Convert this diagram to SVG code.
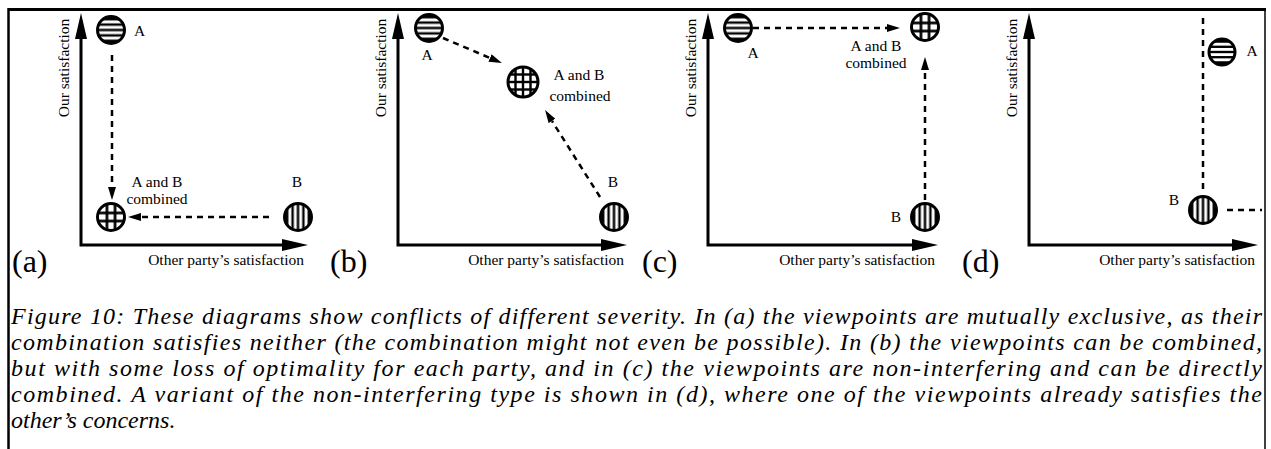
<svg xmlns="http://www.w3.org/2000/svg" width="1271" height="449" viewBox="0 0 1271 449">
<style>
.lbl{font-family:"Liberation Serif","Times New Roman",serif;font-size:15.5px;fill:#000}
.mid{text-anchor:middle}
.end{text-anchor:end}
.tag{font-family:"Liberation Serif","Times New Roman",serif;font-size:32px;fill:#000}
.cap{font-family:"Liberation Serif","Times New Roman",serif;font-style:italic;font-size:24px;fill:#000}
.axis{fill:none;stroke:#000;stroke-width:3;stroke-linejoin:miter}
.dash{fill:none;stroke:#000;stroke-width:2.5;stroke-dasharray:6 5}
.node{stroke:#000;stroke-width:3}
.frame{stroke:#000;fill:none}
</style>
<defs>
<marker id="ax" markerUnits="userSpaceOnUse" markerWidth="26" markerHeight="12" refX="0" refY="6" orient="auto-start-reverse" viewBox="0 0 26 12"><path d="M0,0 L26,6 L0,12 z" fill="#000"/></marker>
<marker id="ar" markerUnits="userSpaceOnUse" markerWidth="13" markerHeight="8" refX="0" refY="4" orient="auto" viewBox="0 0 13 8"><path d="M0,0 L13,4 L0,8 z" fill="#000"/></marker>
<pattern id="hs" patternContentUnits="objectBoundingBox" width="1" height="1">
<rect width="1" height="1" fill="#000"/>
<rect y="0.145" width="1" height="0.11" fill="#fff"/>
<rect y="0.345" width="1" height="0.11" fill="#fff"/>
<rect y="0.545" width="1" height="0.11" fill="#fff"/>
<rect y="0.745" width="1" height="0.11" fill="#fff"/>
</pattern>
<pattern id="vs" patternContentUnits="objectBoundingBox" width="1" height="1">
<rect width="1" height="1" fill="#000"/>
<rect x="0.145" width="0.11" height="1" fill="#fff"/>
<rect x="0.345" width="0.11" height="1" fill="#fff"/>
<rect x="0.545" width="0.11" height="1" fill="#fff"/>
<rect x="0.745" width="0.11" height="1" fill="#fff"/>
</pattern>
<pattern id="gr" patternContentUnits="objectBoundingBox" width="1" height="1">
<rect width="1" height="1" fill="#fff"/>
<rect x="0.3" width="0.1" height="1" fill="#000"/>
<rect x="0.6" width="0.1" height="1" fill="#000"/>
<rect y="0.3" width="1" height="0.1" fill="#000"/>
<rect y="0.6" width="1" height="0.1" fill="#000"/>
</pattern>
<pattern id="gr3" patternContentUnits="objectBoundingBox" width="1" height="1">
<rect width="1" height="1" fill="#fff"/>
<rect x="0.21" width="0.08" height="1" fill="#000"/>
<rect x="0.46" width="0.08" height="1" fill="#000"/>
<rect x="0.71" width="0.08" height="1" fill="#000"/>
<rect y="0.21" width="1" height="0.08" fill="#000"/>
<rect y="0.46" width="1" height="0.08" fill="#000"/>
<rect y="0.71" width="1" height="0.08" fill="#000"/>
</pattern>
</defs>

<g id="frame">
<line class="frame" x1="8.5" y1="9.5" x2="1266" y2="9.5" stroke-width="3"/>
<line class="frame" x1="8.5" y1="8" x2="8.5" y2="449" stroke-width="2.5"/>
<line class="frame" x1="1265" y1="8" x2="1265" y2="449" stroke-width="1.5"/>
</g>

<g id="axes">
<path class="axis" d="M81,39 V245 H282" marker-start="url(#ax)" marker-end="url(#ax)"/>
<path class="axis" d="M398,39 V245 H601" marker-start="url(#ax)" marker-end="url(#ax)"/>
<path class="axis" d="M708,39 V245 H912" marker-start="url(#ax)" marker-end="url(#ax)"/>
<path class="axis" d="M1029,39 V245 H1232" marker-start="url(#ax)" marker-end="url(#ax)"/>
</g>

<g id="axis-labels">
<text class="lbl mid" x="69" y="68" transform="rotate(-90 69 68)">Our satisfaction</text>
<text class="lbl mid" x="386" y="68" transform="rotate(-90 386 68)">Our satisfaction</text>
<text class="lbl mid" x="696" y="68" transform="rotate(-90 696 68)">Our satisfaction</text>
<text class="lbl mid" x="1017" y="68" transform="rotate(-90 1017 68)">Our satisfaction</text>
<text class="lbl end" x="304" y="265">Other party’s satisfaction</text>
<text class="lbl end" x="624" y="265">Other party’s satisfaction</text>
<text class="lbl end" x="935" y="265">Other party’s satisfaction</text>
<text class="lbl end" x="1255" y="265">Other party’s satisfaction</text>
<text class="tag" x="12" y="272">(a)</text>
<text class="tag" x="330" y="272">(b)</text>
<text class="tag" x="642" y="272">(c)</text>
<text class="tag" x="962" y="272">(d)</text>
</g>

<g id="connectors">
<path class="dash" d="M112,55 V187" marker-end="url(#ar)"/>
<path class="dash" d="M269,217 H141" marker-end="url(#ar)"/>
<path class="dash" d="M443,38 L490,58" marker-end="url(#ar)"/>
<path class="dash" d="M600,197 L552,121" marker-end="url(#ar)"/>
<path class="dash" d="M753,28 H887" marker-end="url(#ar)"/>
<path class="dash" d="M925,200 V70" marker-end="url(#ar)"/>
<path class="dash" d="M1203,18 V193"/>
<path class="dash" d="M1227,210 H1262"/>
</g>

<g id="a-A"><circle class="node" cx="111" cy="30" r="13.5" fill="url(#hs)"/><text class="lbl" x="134" y="36">A</text></g>
<g id="a-C"><circle class="node" cx="111" cy="217" r="13.5" fill="url(#gr)"/><text class="lbl mid" x="157" y="187">A and B</text><text class="lbl mid" x="157" y="204">combined</text></g>
<g id="a-B"><circle class="node" cx="298" cy="217" r="13.5" fill="url(#vs)"/><text class="lbl mid" x="297" y="187">B</text></g>

<g id="b-A"><circle class="node" cx="429" cy="28" r="13.5" fill="url(#hs)"/><text class="lbl mid" x="427" y="60">A</text></g>
<g id="b-C"><circle class="node" cx="523" cy="82" r="15" fill="url(#gr3)"/><text class="lbl mid" x="579" y="80">A and B</text><text class="lbl mid" x="580" y="101">combined</text></g>
<g id="b-B"><circle class="node" cx="614" cy="217" r="13.5" fill="url(#vs)"/><text class="lbl mid" x="613" y="187">B</text></g>

<g id="c-A"><circle class="node" cx="738" cy="28" r="13.5" fill="url(#hs)"/><text class="lbl mid" x="753" y="58">A</text></g>
<g id="c-C"><circle class="node" cx="925" cy="27" r="13.5" fill="url(#gr)"/><text class="lbl mid" x="876" y="51">A and B</text><text class="lbl mid" x="876" y="68">combined</text></g>
<g id="c-B"><circle class="node" cx="925" cy="217" r="13.5" fill="url(#vs)"/><text class="lbl mid" x="896" y="222">B</text></g>

<g id="d-A"><circle class="node" cx="1222" cy="52" r="13" fill="url(#hs)"/><text class="lbl mid" x="1252" y="56">A</text></g>
<g id="d-B"><circle class="node" cx="1203" cy="210" r="13.5" fill="url(#vs)"/><text class="lbl mid" x="1174" y="205">B</text></g>

<g id="caption">
<text class="cap" x="11" y="324" textLength="1251" lengthAdjust="spacing">Figure 10: These diagrams show conflicts of different severity. In (a) the viewpoints are mutually exclusive, as their</text>
<text class="cap" x="11" y="350" textLength="1251" lengthAdjust="spacing">combination satisfies neither (the combination might not even be possible). In (b) the viewpoints can be combined,</text>
<text class="cap" x="11" y="376" textLength="1251" lengthAdjust="spacing">but with some loss of optimality for each party, and in (c) the viewpoints are non-interfering and can be directly</text>
<text class="cap" x="11" y="402" textLength="1251" lengthAdjust="spacing">combined. A variant of the non-interfering type is shown in (d), where one of the viewpoints already satisfies the</text>
<text class="cap" x="11" y="428">other’s concerns.</text>
</g>
</svg>
